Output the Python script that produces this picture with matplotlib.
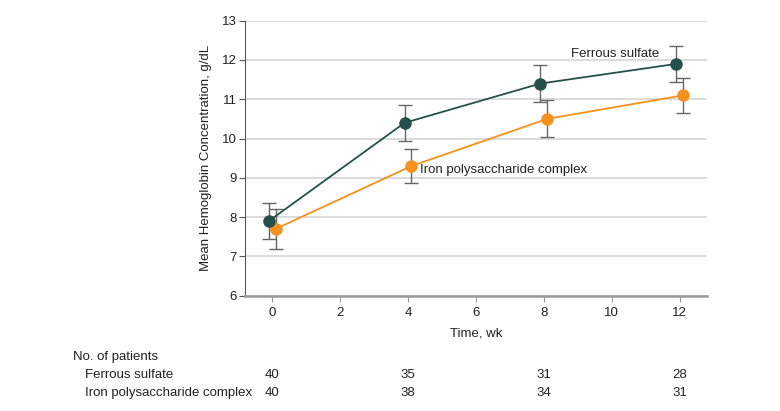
import matplotlib
matplotlib.use("Agg")
import matplotlib.pyplot as plt
from matplotlib import font_manager

names = {f.name for f in font_manager.fontManager.ttflist}
fam = "Liberation Sans Narrow" if "Liberation Sans Narrow" in names else "Liberation Sans"
plt.rcParams['font.family'] = [fam, 'DejaVu Sans']

weeks = [0, 4, 8, 12]
ferrous_mean = [7.9, 10.4, 11.4, 11.9]
ferrous_err = [0.46, 0.45, 0.47, 0.45]
ips_mean = [7.7, 9.3, 10.5, 11.1]
ips_err = [0.5, 0.43, 0.47, 0.45]
ferrous_n = [40, 35, 31, 28]
ips_n = [40, 38, 34, 31]
xticks = [0, 2, 4, 6, 8, 10, 12]
yticks = [6, 7, 8, 9, 10, 11, 12, 13]

teal = "#24504b"
orange = "#f7901e"
errc = "#666666"
txt = "#222222"
fs = 9.5

fig = plt.figure(figsize=(7.8, 4.11), dpi=100)
ax = fig.add_axes([245/780, 1-295.7/411, (706.7-245)/780, (295.7-20.7)/411])

off = 0.1
xf = [w - off for w in weeks]
xi = [w + off for w in weeks]

ax.errorbar(xf, ferrous_mean, yerr=ferrous_err, fmt='none', ecolor=errc, elinewidth=1, capsize=5, capthick=1, zorder=2)
ax.errorbar(xi, ips_mean, yerr=ips_err, fmt='none', ecolor=errc, elinewidth=1, capsize=5, capthick=1, zorder=2)
ax.plot(xi, ips_mean, color=orange, lw=1.3, marker='o', ms=8, mec=orange, zorder=3)
ax.plot(xf, ferrous_mean, color=teal, lw=1.3, marker='o', ms=8, mec=teal, zorder=4)

ax.set_xlim(-0.8, 12.8)
ax.set_ylim(6, 13)
ax.set_xticks(xticks)
ax.set_yticks(yticks)
ax.yaxis.grid(True, color="#d9d9d9", lw=1.3)
ax.set_axisbelow(True)
for s in ['top', 'right']:
    ax.spines[s].set_visible(False)
ax.spines['left'].set_color("#555555")
ax.spines['left'].set_linewidth(0.8)
ax.spines['bottom'].set_color("#999999")
ax.spines['bottom'].set_linewidth(1.8)
ax.tick_params(axis='y', colors="#555555", labelcolor=txt, length=4, width=0.8, labelsize=fs, pad=2)
ax.tick_params(axis='x', colors="#999999", labelcolor=txt, length=4, width=0.8, labelsize=fs, pad=4)

ax.set_xlabel("Time, wk", fontsize=fs, labelpad=6, color=txt)
ax.set_ylabel("Mean Hemoglobin Concentration, g/dL", fontsize=fs, labelpad=7, color=txt)

ax.text(11.4, 12.15, "Ferrous sulfate", ha='right', va='center', fontsize=fs, color=txt)
ax.text(4.35, 9.2, "Iron polysaccharide complex", ha='left', va='center', fontsize=fs, color=txt)

# number at risk table
def fy(py):
    return 1 - py / 411
fig.text(73/780, fy(356.7), "No. of patients", ha='left', va='center', fontsize=fs, color=txt)
fig.text(85/780, fy(375), "Ferrous sulfate", ha='left', va='center', fontsize=fs, color=txt)
fig.text(85/780, fy(393.3), "Iron polysaccharide complex", ha='left', va='center', fontsize=fs, color=txt)
for w, a, b in zip(weeks, ferrous_n, ips_n):
    xd = ax.transData.transform((w, 0))[0]
    xf_ = fig.transFigure.inverted().transform((xd, 0))[0]
    fig.text(xf_, fy(375), str(a), ha='center', va='center', fontsize=fs, color=txt)
    fig.text(xf_, fy(393.3), str(b), ha='center', va='center', fontsize=fs, color=txt)

fig.savefig("out.png", dpi=100)
